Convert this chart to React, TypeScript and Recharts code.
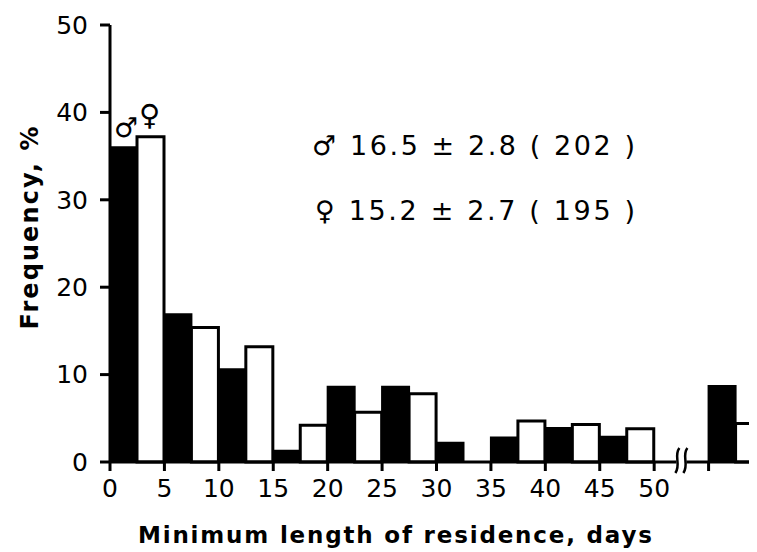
import React from 'react';
import { BarChart, Bar, XAxis, YAxis, ReferenceDot } from 'recharts';

const binCenters = [2.5, 7.5, 12.5, 17.5, 22.5, 27.5, 32.5, 37.5, 42.5, 47.5, 57.5];
const maleValues = [36, 16.9, 10.6, 1.3, 8.6, 8.6, 2.2, 2.8, 3.9, 2.9, 8.7];
const femaleValues = [37.2, 15.4, 13.2, 4.2, 5.7, 7.8, 0, 4.7, 4.3, 3.8, 4.4];
const xTicks = [0, 5, 10, 15, 20, 25, 30, 35, 40, 45, 50, 55];
const xTickLabels = ['0', '5', '10', '15', '20', '25', '30', '35', '40', '45', '50', ''];
const yTicks = [0, 10, 20, 30, 40, 50];
const breakAt = 52.5;

const data = binCenters.map((x, i) => ({ x, male: maleValues[i], female: femaleValues[i] }));

const FONT = '"DejaVu Sans", sans-serif';

const BreakMark = (props: any) => {
  const { cx, cy } = props;
  if (cx == null || cy == null) return null;
  const curve = (x0: number) =>
    `M ${x0 + 3} ${cy - 14} C ${x0 - 3} ${cy - 6}, ${x0 + 5} ${cy + 2}, ${x0 - 1} ${cy + 11}`;
  return (
    <g>
      <rect x={cx - 5} y={cy - 5} width={10} height={10} fill="#fff" />
      <path d={curve(cx - 5)} stroke="#000" strokeWidth={2.5} fill="none" />
      <path d={curve(cx + 3)} stroke="#000" strokeWidth={2.5} fill="none" />
    </g>
  );
};

export default function App() {
  return (
    <div style={{ width: 749, height: 544, overflow: 'hidden' }}>
      <BarChart
        width={755}
        height={544}
        data={data}
        margin={{ top: 17, right: 0, left: 0, bottom: 0 }}
        barGap={0}
        barCategoryGap={0}
      >
        <XAxis
          type="number"
          dataKey="x"
          domain={[0, 60]}
          ticks={xTicks}
          interval={0}
          height={90}
          tickFormatter={(v: number) => xTickLabels[xTicks.indexOf(v)] ?? ''}
          tick={{ fontSize: 25, fill: '#000', fontFamily: FONT }}
          tickSize={9}
          tickMargin={8}
          tickLine={{ stroke: '#000', strokeWidth: 3 }}
          axisLine={{ stroke: '#000', strokeWidth: 3 }}
        />
        <YAxis
          type="number"
          domain={[0, 50]}
          ticks={yTicks}
          interval={0}
          width={102}
          tick={{ fontSize: 25, fill: '#000', fontFamily: FONT }}
          tickSize={10}
          tickMargin={12}
          tickLine={{ stroke: '#000', strokeWidth: 3 }}
          axisLine={{ stroke: '#000', strokeWidth: 3 }}
        />
        <Bar dataKey="male" fill="#000" stroke="#000" strokeWidth={2} isAnimationActive={false} />
        <Bar dataKey="female" fill="#fff" stroke="#000" strokeWidth={3} isAnimationActive={false} />
        <ReferenceDot x={breakAt} y={0} r={0} shape={BreakMark} />
        <text x={106} y={129} fontSize={27} fontFamily={FONT} fill="#000">♂</text>
        <text x={131} y={117} fontSize={29} fontFamily={FONT} fill="#000">♀</text>
        <text x={304} y={147} fontSize={27} fontFamily={FONT} fill="#000" textLength={323} lengthAdjust="spacing">♂ 16.5 ± 2.8 ( 202 )</text>
        <text x={307} y={212} fontSize={27} fontFamily={FONT} fill="#000" textLength={320} lengthAdjust="spacing">♀ 15.2 ± 2.7 ( 195 )</text>
        <text
          x={22}
          y={220}
          transform="rotate(-90, 22, 220)"
          textAnchor="middle"
          dominantBaseline="central"
          fontSize={24}
          fontWeight="bold"
          fontFamily={FONT}
          fill="#000"
          textLength={203}
          lengthAdjust="spacing"
        >
          Frequency, %
        </text>
        <text
          x={130}
          y={535}
          fontSize={23}
          fontWeight="bold"
          fontFamily={FONT}
          fill="#000"
          textLength={514}
          lengthAdjust="spacing"
        >
          Minimum length of residence, days
        </text>
      </BarChart>
    </div>
  );
}
